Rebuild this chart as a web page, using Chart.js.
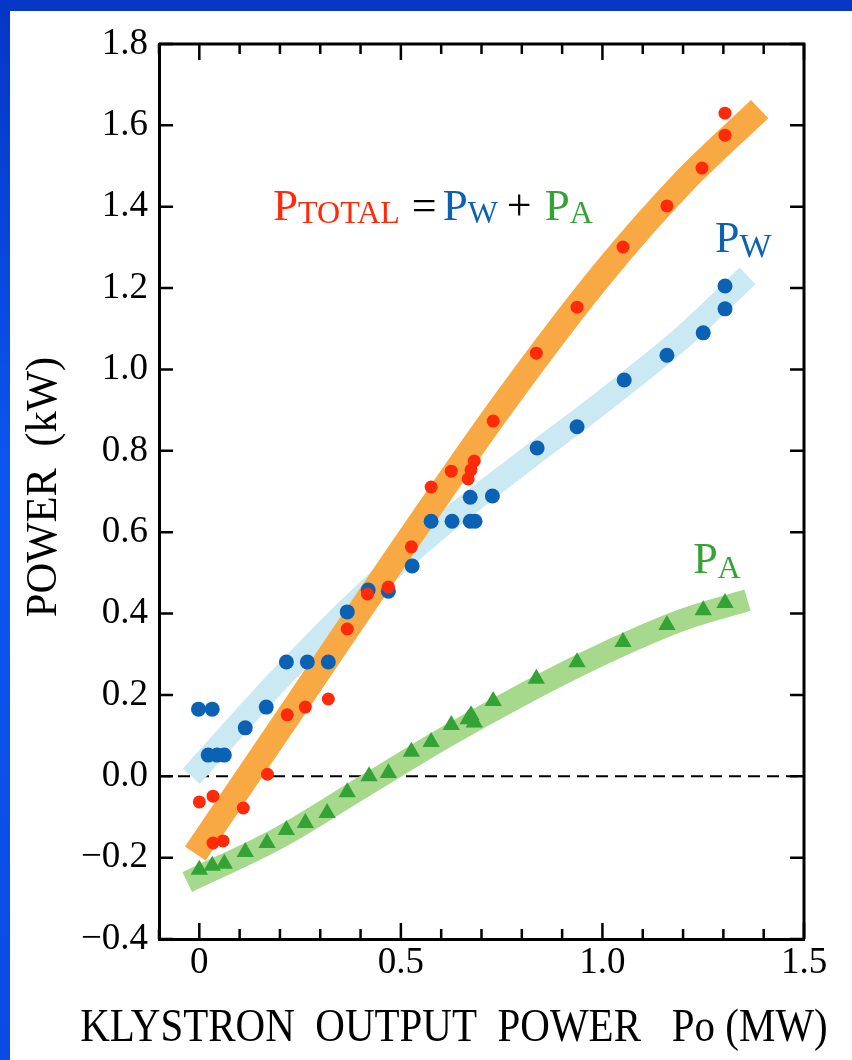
<!DOCTYPE html>
<html>
<head>
<meta charset="utf-8">
<title>Klystron output power vs. absorbed power</title>
<script src="https://cdn.jsdelivr.net/npm/chart.js@4.4.1/dist/chart.umd.min.js"></script>
<style>
    html, body { margin: 0; padding: 0; background: #fff; }
    #frame { position: relative; width: 852px; height: 1060px; background: #fff; overflow: hidden; }
    #topBar { position: absolute; left: 0; top: 0; width: 852px; height: 11px; background: #0637c7; }
    #leftBar { position: absolute; left: 0; top: 0; width: 10px; height: 1060px;
               background: linear-gradient(#0536c6, #0b56ef 45%, #0a4be4); }
    #chartBox { position: absolute; left: 0; top: 0; width: 852px; height: 1060px; }
</style>
</head>
<body>
<div id="frame">
    <div id="topBar"></div>
    <div id="leftBar"></div>
    <div id="chartBox"><canvas id="powerChart"></canvas></div>
</div>
<script>
const totalX = [0, 0.034, 0.034, 0.059, 0.109, 0.169, 0.218, 0.263, 0.32, 0.367, 0.417, 0.469, 0.526,
    0.575, 0.625, 0.667, 0.674, 0.682, 0.729, 0.836, 0.937, 1.051, 1.160, 1.247, 1.304, 1.304];
const totalY = [-0.063, -0.049, -0.164, -0.159, -0.078, 0.005, 0.151, 0.170, 0.190, 0.362, 0.448, 0.465, 0.564,
    0.711, 0.750, 0.731, 0.753, 0.775, 0.873, 1.040, 1.153, 1.301, 1.402, 1.495, 1.630, 1.576];

const waterX = [-0.002, 0.032, 0.022, 0.044, 0.062, 0.114, 0.166, 0.216, 0.268, 0.32, 0.367, 0.419, 0.469,
    0.528, 0.575, 0.627, 0.672, 0.684, 0.672, 0.727, 0.838, 0.937, 1.054, 1.160, 1.250, 1.304, 1.304];
const waterY = [0.165, 0.165, 0.052, 0.052, 0.052, 0.119, 0.170, 0.281, 0.281, 0.281, 0.404, 0.458, 0.455,
    0.517, 0.627, 0.627, 0.627, 0.627, 0.686, 0.689, 0.807, 0.859, 0.974, 1.035, 1.090, 1.149, 1.205];

const airX = [0, 0.032, 0.062, 0.114, 0.168, 0.216, 0.263, 0.317, 0.367, 0.421, 0.469, 0.526,
    0.575, 0.625, 0.667, 0.674, 0.682, 0.729, 0.836, 0.937, 1.051, 1.160, 1.250, 1.304];
const airY = [-0.23, -0.22, -0.215, -0.186, -0.164, -0.132, -0.115, -0.09, -0.039, 0.0, 0.008, 0.06,
    0.084, 0.126, 0.14, 0.15, 0.132, 0.185, 0.24, 0.28, 0.33, 0.372, 0.408, 0.426];

// Broad trend bands (centre lines)
const totalBandX = [-0.01, 0.25, 0.5, 0.75, 1.0, 1.2, 1.39];
const totalBandY = [-0.19, 0.19, 0.555, 0.91, 1.235, 1.46, 1.64];
const waterBandX = [-0.02, 0.2, 0.4, 0.6, 0.8, 1.0, 1.2, 1.36];
const waterBandY = [0.0, 0.24, 0.44, 0.615, 0.77, 0.92, 1.08, 1.23];
const airBandX = [-0.03, 0.2, 0.4, 0.6, 0.8, 1.0, 1.2, 1.36];
const airBandY = [-0.26, -0.15, -0.03, 0.09, 0.2, 0.3, 0.385, 0.433];

// Zero reference line
const zeroX = [-0.1, 1.5];
const zeroY = [0, 0];

// Axis ranges
const xMin = -0.1, xMax = 1.5, xStep = 0.1;
const yMin = -0.4, yMax = 1.8, yStep = 0.2;

const COLORS = {
    red: '#ff2a0a',
    blue: '#0b62b5',
    green: '#34a335',
    orange: '#f9a944',
    lightBlue: '#cbe9f3',
    lightGreen: '#a7d98d'
};

const SERIF = '"Liberation Serif"';

const toPoints = (xs, ys) => xs.map((x, i) => ({ x, y: ys[i] }));

function band(label, xs, ys, color, width, order) {
    return {
        label, data: toPoints(xs, ys), showLine: true,
        borderColor: color, borderWidth: width, borderCapStyle: 'butt', borderJoinStyle: 'round',
        cubicInterpolationMode: 'monotone', pointRadius: 0, order
    };
}

// inward tick marks + top/right frame
const frameTicks = {
    id: 'frameTicks',
    afterDraw(chart) {
        const { ctx, chartArea: a, scales: { x, y } } = chart;
        ctx.save();
        ctx.strokeStyle = '#000';
        ctx.lineWidth = 3;
        ctx.beginPath();
        ctx.moveTo(a.left, a.top);
        ctx.lineTo(a.right, a.top);
        ctx.lineTo(a.right, a.bottom);
        ctx.stroke();

        ctx.lineWidth = 2.5;
        ctx.beginPath();
        x.ticks.forEach(t => {
            const px = x.getPixelForValue(t.value);
            const len = Math.round(t.value * 10) % 5 === 0 ? 16 : 10;
            ctx.moveTo(px, a.bottom); ctx.lineTo(px, a.bottom - len);
            ctx.moveTo(px, a.top); ctx.lineTo(px, a.top + len);
        });
        y.ticks.forEach(t => {
            const py = y.getPixelForValue(t.value);
            ctx.moveTo(a.left, py); ctx.lineTo(a.left + 14, py);
            ctx.moveTo(a.right, py); ctx.lineTo(a.right - 14, py);
        });
        ctx.stroke();
        ctx.restore();
    }
};

// label + subscript pieces, laid out left to right from a data position
const FORMULA_AT = { x: 0.183, y: 1.367 };
const PW_AT = { x: 1.279, y: 1.289 };
const PA_AT = { x: 1.225, y: 0.5 };

function drawPieces(ctx, x0, y0, pieces) {
    let cx = x0;
    pieces.forEach(p => {
        cx += p.gap || 0;
        ctx.font = p.size + 'px ' + SERIF;
        ctx.fillStyle = p.color;
        ctx.fillText(p.text, cx, y0 + (p.dy || 0));
        cx += ctx.measureText(p.text).width;
    });
}

const textLabels = {
    id: 'textLabels',
    afterDraw(chart) {
        const { ctx, scales: { x, y } } = chart;
        ctx.save();
        ctx.textBaseline = 'alphabetic';
        ctx.textAlign = 'left';

        drawPieces(ctx, x.getPixelForValue(FORMULA_AT.x), y.getPixelForValue(FORMULA_AT.y), [
            { text: 'P', size: 45, color: COLORS.red },
            { text: 'TOTAL', size: 32, color: COLORS.red, dy: 3 },
            { text: '=', size: 44, color: '#000', gap: 12 },
            { text: 'P', size: 45, color: COLORS.blue, gap: 6 },
            { text: 'W', size: 32, color: COLORS.blue, dy: 3 },
            { text: '+', size: 44, color: '#000', gap: 9 },
            { text: 'P', size: 45, color: COLORS.green, gap: 13 },
            { text: 'A', size: 32, color: COLORS.green, dy: 3 }
        ]);
        drawPieces(ctx, x.getPixelForValue(PW_AT.x), y.getPixelForValue(PW_AT.y), [
            { text: 'P', size: 44, color: COLORS.blue },
            { text: 'W', size: 34, color: COLORS.blue, dy: 5 }
        ]);
        drawPieces(ctx, x.getPixelForValue(PA_AT.x), y.getPixelForValue(PA_AT.y), [
            { text: 'P', size: 44, color: COLORS.green },
            { text: 'A', size: 32, color: COLORS.green, dy: 5 }
        ]);

        // axis titles (the source lettering is a little taller than plain Times)
        ctx.fillStyle = '#000';
        ctx.textAlign = 'center';
        ctx.save();
        ctx.font = '41px ' + SERIF;
        ctx.translate(454, 1041);
        ctx.scale(1, 1.15);
        ctx.fillText('KLYSTRON  OUTPUT  POWER   Po (MW)', 0, 0);
        ctx.restore();

        ctx.font = '41px ' + SERIF;
        ctx.translate(56, 487);
        ctx.rotate(-Math.PI / 2);
        ctx.scale(1.04, 1.1);
        ctx.fillText('POWER  (kW)', 0, 0);
        ctx.restore();
    }
};

function drawChart() {
    new Chart(document.getElementById('powerChart'), {
        type: 'scatter',
        data: {
            datasets: [
                { label: 'P total', data: toPoints(totalX, totalY), pointStyle: 'circle', pointRadius: 6.5,
                  backgroundColor: COLORS.red, borderWidth: 0, order: 0 },
                { label: 'P W', data: toPoints(waterX, waterY), pointStyle: 'circle', pointRadius: 7.5,
                  backgroundColor: COLORS.blue, borderWidth: 0, order: 1 },
                { label: 'P A', data: toPoints(airX, airY), pointStyle: 'triangle', pointRadius: 10,
                  backgroundColor: COLORS.green, borderWidth: 0, order: 2 },
                band('P total band', totalBandX, totalBandY, COLORS.orange, 25, 3),
                band('P W band', waterBandX, waterBandY, COLORS.lightBlue, 23, 4),
                band('P A band', airBandX, airBandY, COLORS.lightGreen, 22, 5),
                { label: 'zero', data: toPoints(zeroX, zeroY), showLine: true, borderColor: '#000',
                  borderWidth: 2, borderDash: [12, 7], pointRadius: 0, order: 6 }
            ]
        },
        options: {
            responsive: true,
            maintainAspectRatio: false,
            animation: false,
            events: [],
            layout: { padding: { top: 44, right: 48, bottom: 0, left: 0 } },
            plugins: { legend: { display: false }, tooltip: { enabled: false } },
            scales: {
                x: {
                    type: 'linear', min: xMin, max: xMax,
                    afterFit: s => { s.height = 121; },
                    grid: { display: false, drawTicks: false },
                    border: { color: '#000', width: 3 },
                    ticks: {
                        stepSize: xStep, autoSkip: false, maxRotation: 0, padding: 2, color: '#000',
                        font: { family: SERIF, size: 37 },
                        callback: v => {
                            const r = Math.round(v * 10);
                            if (r < 0 || r % 5 !== 0) return '';
                            return r === 0 ? '0' : (r / 10).toFixed(1);
                        }
                    }
                },
                y: {
                    type: 'linear', min: yMin, max: yMax,
                    afterFit: s => { s.width = 159; },
                    grid: { display: false, drawTicks: false },
                    border: { color: '#000', width: 3 },
                    ticks: {
                        stepSize: yStep, autoSkip: false, padding: 11, color: '#000',
                        font: { family: SERIF, size: 37 },
                        callback: v => {
                            const r = Math.round(v * 10) / 10;
                            return r < 0 ? '\u2212' + Math.abs(r).toFixed(1) : r.toFixed(1);
                        }
                    }
                }
            }
        },
        plugins: [frameTicks, textLabels]
    });
}

// make sure the serif face is ready before the canvas text is drawn
document.fonts.load('37px "Liberation Serif"').then(drawChart, drawChart);
</script>
</body>
</html>
